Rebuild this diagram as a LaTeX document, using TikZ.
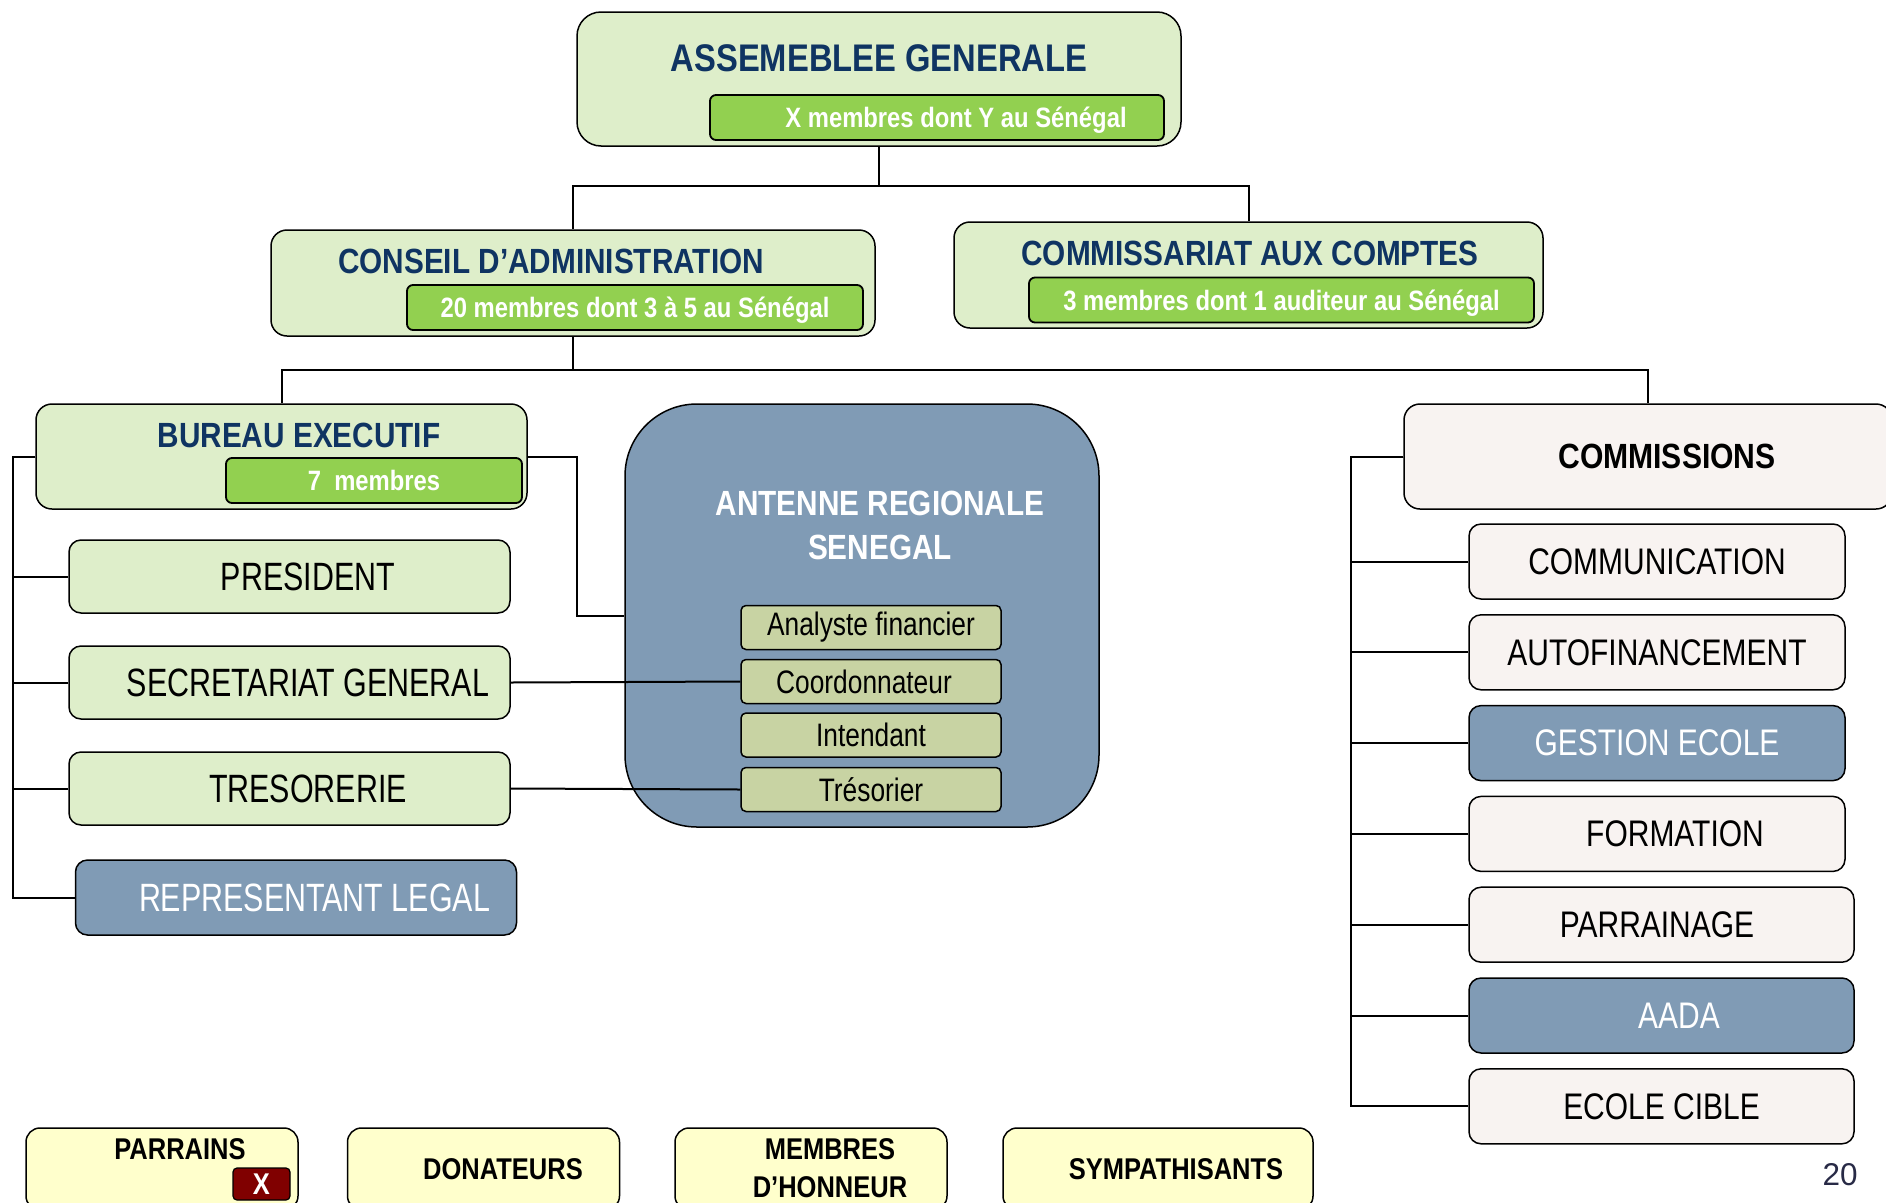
\documentclass[tikz,border=0pt]{standalone}
\usepackage{fontspec}
\setmainfont{Liberation Sans}
\newfontfamily\narrowfont[FakeStretch=0.85]{Liberation Sans}
\newfontfamily\postfont[FakeStretch=0.77]{Liberation Sans}
\newfontfamily\rolefont[FakeStretch=0.81]{Liberation Sans}
\newfontfamily\comfont[FakeStretch=0.81]{Liberation Sans}
\newfontfamily\comheadfont[FakeStretch=0.86]{Liberation Sans}

\definecolor{boxgreen}{RGB}{222,238,202}
\definecolor{tabgreen}{RGB}{146,208,80}
\definecolor{titlenavy}{RGB}{15,52,98}
\definecolor{slateblue}{RGB}{128,155,181}
\definecolor{olivebox}{RGB}{200,211,163}
\definecolor{shellwhite}{RGB}{248,243,241}
\definecolor{paleyellow}{RGB}{255,255,204}
\definecolor{darkred}{RGB}{128,0,0}
\definecolor{pagegray}{RGB}{40,42,70}

\begin{document}
\begin{tikzpicture}[x=1pt,y=-1pt,
    conn/.style={line width=2pt},
    orgbox/.style={draw,line width=1.5pt,fill=boxgreen,rounded corners=16pt,inner sep=0pt},
    tabbox/.style={draw,line width=1.8pt,fill=tabgreen,rounded corners=6pt,inner sep=0pt,minimum height=45,text depth=0pt,text=white,font=\narrowfont\bfseries\fontsize{28}{30}\selectfont},
    orgtitle/.style={text=titlenavy,inner sep=0pt,font=\narrowfont\bfseries\fontsize{35}{38}\selectfont},
    postbox/.style={orgbox,minimum width=441,minimum height=73,rounded corners=12pt,font=\postfont\fontsize{39.5}{42}\selectfont},
    bluebox/.style={fill=slateblue,text=white},
    rolebox/.style={draw,line width=1.5pt,fill=olivebox,rounded corners=5pt,minimum width=260,minimum height=44,inner sep=0pt,font=\rolefont\fontsize{32.5}{34}\selectfont},
    combox/.style={draw,line width=1.5pt,fill=shellwhite,rounded corners=12pt,minimum width=376,minimum height=75,inner sep=0pt,font=\comfont\fontsize{37}{39}\selectfont},
    guestbox/.style={draw,line width=1.5pt,fill=paleyellow,rounded corners=14pt,minimum width=272,minimum height=82,inner sep=0pt},
    guesttext/.style={inner sep=0pt,font=\narrowfont\bfseries\fontsize{30}{38}\selectfont}
]
\useasboundingbox (0,0) rectangle (1886,1202);

% assembly, board, auditors
\node[orgbox,minimum width=604,minimum height=134,rounded corners=24pt] (ag) at (879,79) {};
\node[orgtitle,font=\narrowfont\bfseries\fontsize{38.5}{40}\selectfont] (ag-title) at (879,58) {ASSEMEBLEE GENERALE};
\node[tabbox,minimum width=454] (ag-tab) at (937,117.5) {\hspace*{38pt}X membres dont Y au Sénégal};

\node[orgbox,minimum width=604,minimum height=106] (ca) at (573,283) {};
\node[orgtitle] (ca-title) at (551,261) {CONSEIL D’ADMINISTRATION};
\node[tabbox,minimum width=456] (ca-tab) at (635,307.5) {20 membres dont 3 à 5 au Sénégal};

\node[orgbox,minimum width=589,minimum height=106] (cac) at (1248.5,275) {};
\node[orgtitle] (cac-title) at (1250,253) {COMMISSARIAT AUX COMPTES};
\node[tabbox,minimum width=505] (cac-tab) at (1281.5,300) {3 membres dont 1 auditeur au Sénégal};

% executive bureau
\node[orgbox,minimum width=491,minimum height=105] (be) at (281.5,456.5) {};
\node[orgtitle] (be-title) at (299,435) {BUREAU EXECUTIF};
\node[tabbox,minimum width=296] (be-tab) at (374,480.5) {7\ \ membres};

\node[postbox] (pres) at (289.5,576.5) {\hspace*{37pt}PRESIDENT};
\node[postbox] (sec) at (289.5,682.5) {\hspace*{37pt}SECRETARIAT GENERAL};
\node[postbox] (tres) at (289.5,788.5) {\hspace*{37pt}TRESORERIE};
\node[postbox,bluebox,minimum height=75] (rep) at (296,897.5) {\hspace*{37pt}REPRESENTANT LEGAL};

% regional antenna
\node[draw,line width=1.5pt,fill=slateblue,rounded corners=72pt,minimum width=474,minimum height=423] (ant) at (862,615.5) {};
\node[orgtitle,text=white,align=center,font=\narrowfont\bfseries\fontsize{35}{44}\selectfont] (ant-title) at (880,525) {ANTENNE REGIONALE\\SENEGAL};
\node[rolebox] (ana) at (871,627.5) {Analyste financier};
\node[rolebox] (coo) at (871,681.5) {Coordonnateur\hspace*{14pt}};
\node[rolebox] (int) at (871,735) {Intendant};
\node[rolebox] (tre) at (871,789.5) {Trésorier};

% commissions
\node[combox,minimum width=488,minimum height=105,rounded corners=16pt,font=\comheadfont\bfseries\fontsize{35}{37}\selectfont] (com) at (1648,456.5) {\hspace*{38pt}COMMISSIONS};
\node[combox] (cm1) at (1657,561.5) {COMMUNICATION};
\node[combox] (cm2) at (1657,652.3) {AUTOFINANCEMENT};
\node[combox,bluebox] (cm3) at (1657,743.1) {GESTION ECOLE};
\node[combox] (cm4) at (1657,833.9) {\hspace*{36pt}FORMATION};
\node[combox,minimum width=385] (cm5) at (1661.5,924.7) {PARRAINAGE\hspace*{9pt}};
\node[combox,bluebox,minimum width=385] (cm6) at (1661.5,1015.5) {\hspace*{35pt}AADA};
\node[combox,minimum width=385] (cm7) at (1661.5,1106.3) {ECOLE CIBLE};

% connectors
\draw[conn] (ag.south) -- ++(0,39) -| (ca.north);
\draw[conn] (ag.south) -- ++(0,39) -| (cac.north);
\draw[conn] (ca.south) -- ++(0,33) -| (be.north);
\draw[conn] (ca.south) -- ++(0,33) -| (com.north);
\draw[conn] (be.west) -- ++(-22,0) |- (pres.west);
\draw[conn] (be.west) -- ++(-22,0) |- (sec.west);
\draw[conn] (be.west) -- ++(-22,0) |- (tres.west);
\draw[conn] (be.west) -- ++(-22,0) |- (rep.west);
\draw[conn] (be.east) -- ++(49,0) |- (ant.west);
\draw[conn] (sec.east) -- (coo.west);
\draw[conn] (tres.east) -- (tre.west);
\draw[conn] (com.west) -- ++(-52,0) |- (cm1.west);
\draw[conn] (com.west) -- ++(-52,0) |- (cm2.west);
\draw[conn] (com.west) -- ++(-52,0) |- (cm3.west);
\draw[conn] (com.west) -- ++(-52,0) |- (cm4.west);
\draw[conn] (com.west) -- ++(-52,0) |- (cm5.west);
\draw[conn] (com.west) -- ++(-52,0) |- (cm6.west);
\draw[conn] (com.west) -- ++(-52,0) |- (cm7.west);

% members outside the bureau
\node[guestbox] (parrains) at (162,1169) {};
\node[guesttext] (parrains-text) at (180,1149) {PARRAINS};
\node[draw,line width=1.2pt,fill=darkred,rounded corners=4pt,minimum width=57,minimum height=32,inner sep=0pt,text=white,font=\narrowfont\bfseries\fontsize{30}{32}\selectfont] (parrains-x) at (261.5,1184) {X};
\node[guestbox,guesttext] (donateurs) at (483.5,1169) {\hspace*{39pt}DONATEURS};
\node[guestbox] (honneur) at (811,1169) {};
\node[guesttext,align=center] (honneur-text) at (830,1168) {MEMBRES\\D’HONNEUR};
\node[guestbox,guesttext,minimum width=310] (sympa) at (1158,1169) {\hspace*{36pt}SYMPATHISANTS};

\node[text=pagegray,inner sep=0pt,font=\fontsize{31.5}{33}\selectfont] (pagenum) at (1840,1175) {20};
\end{tikzpicture}
\end{document}
